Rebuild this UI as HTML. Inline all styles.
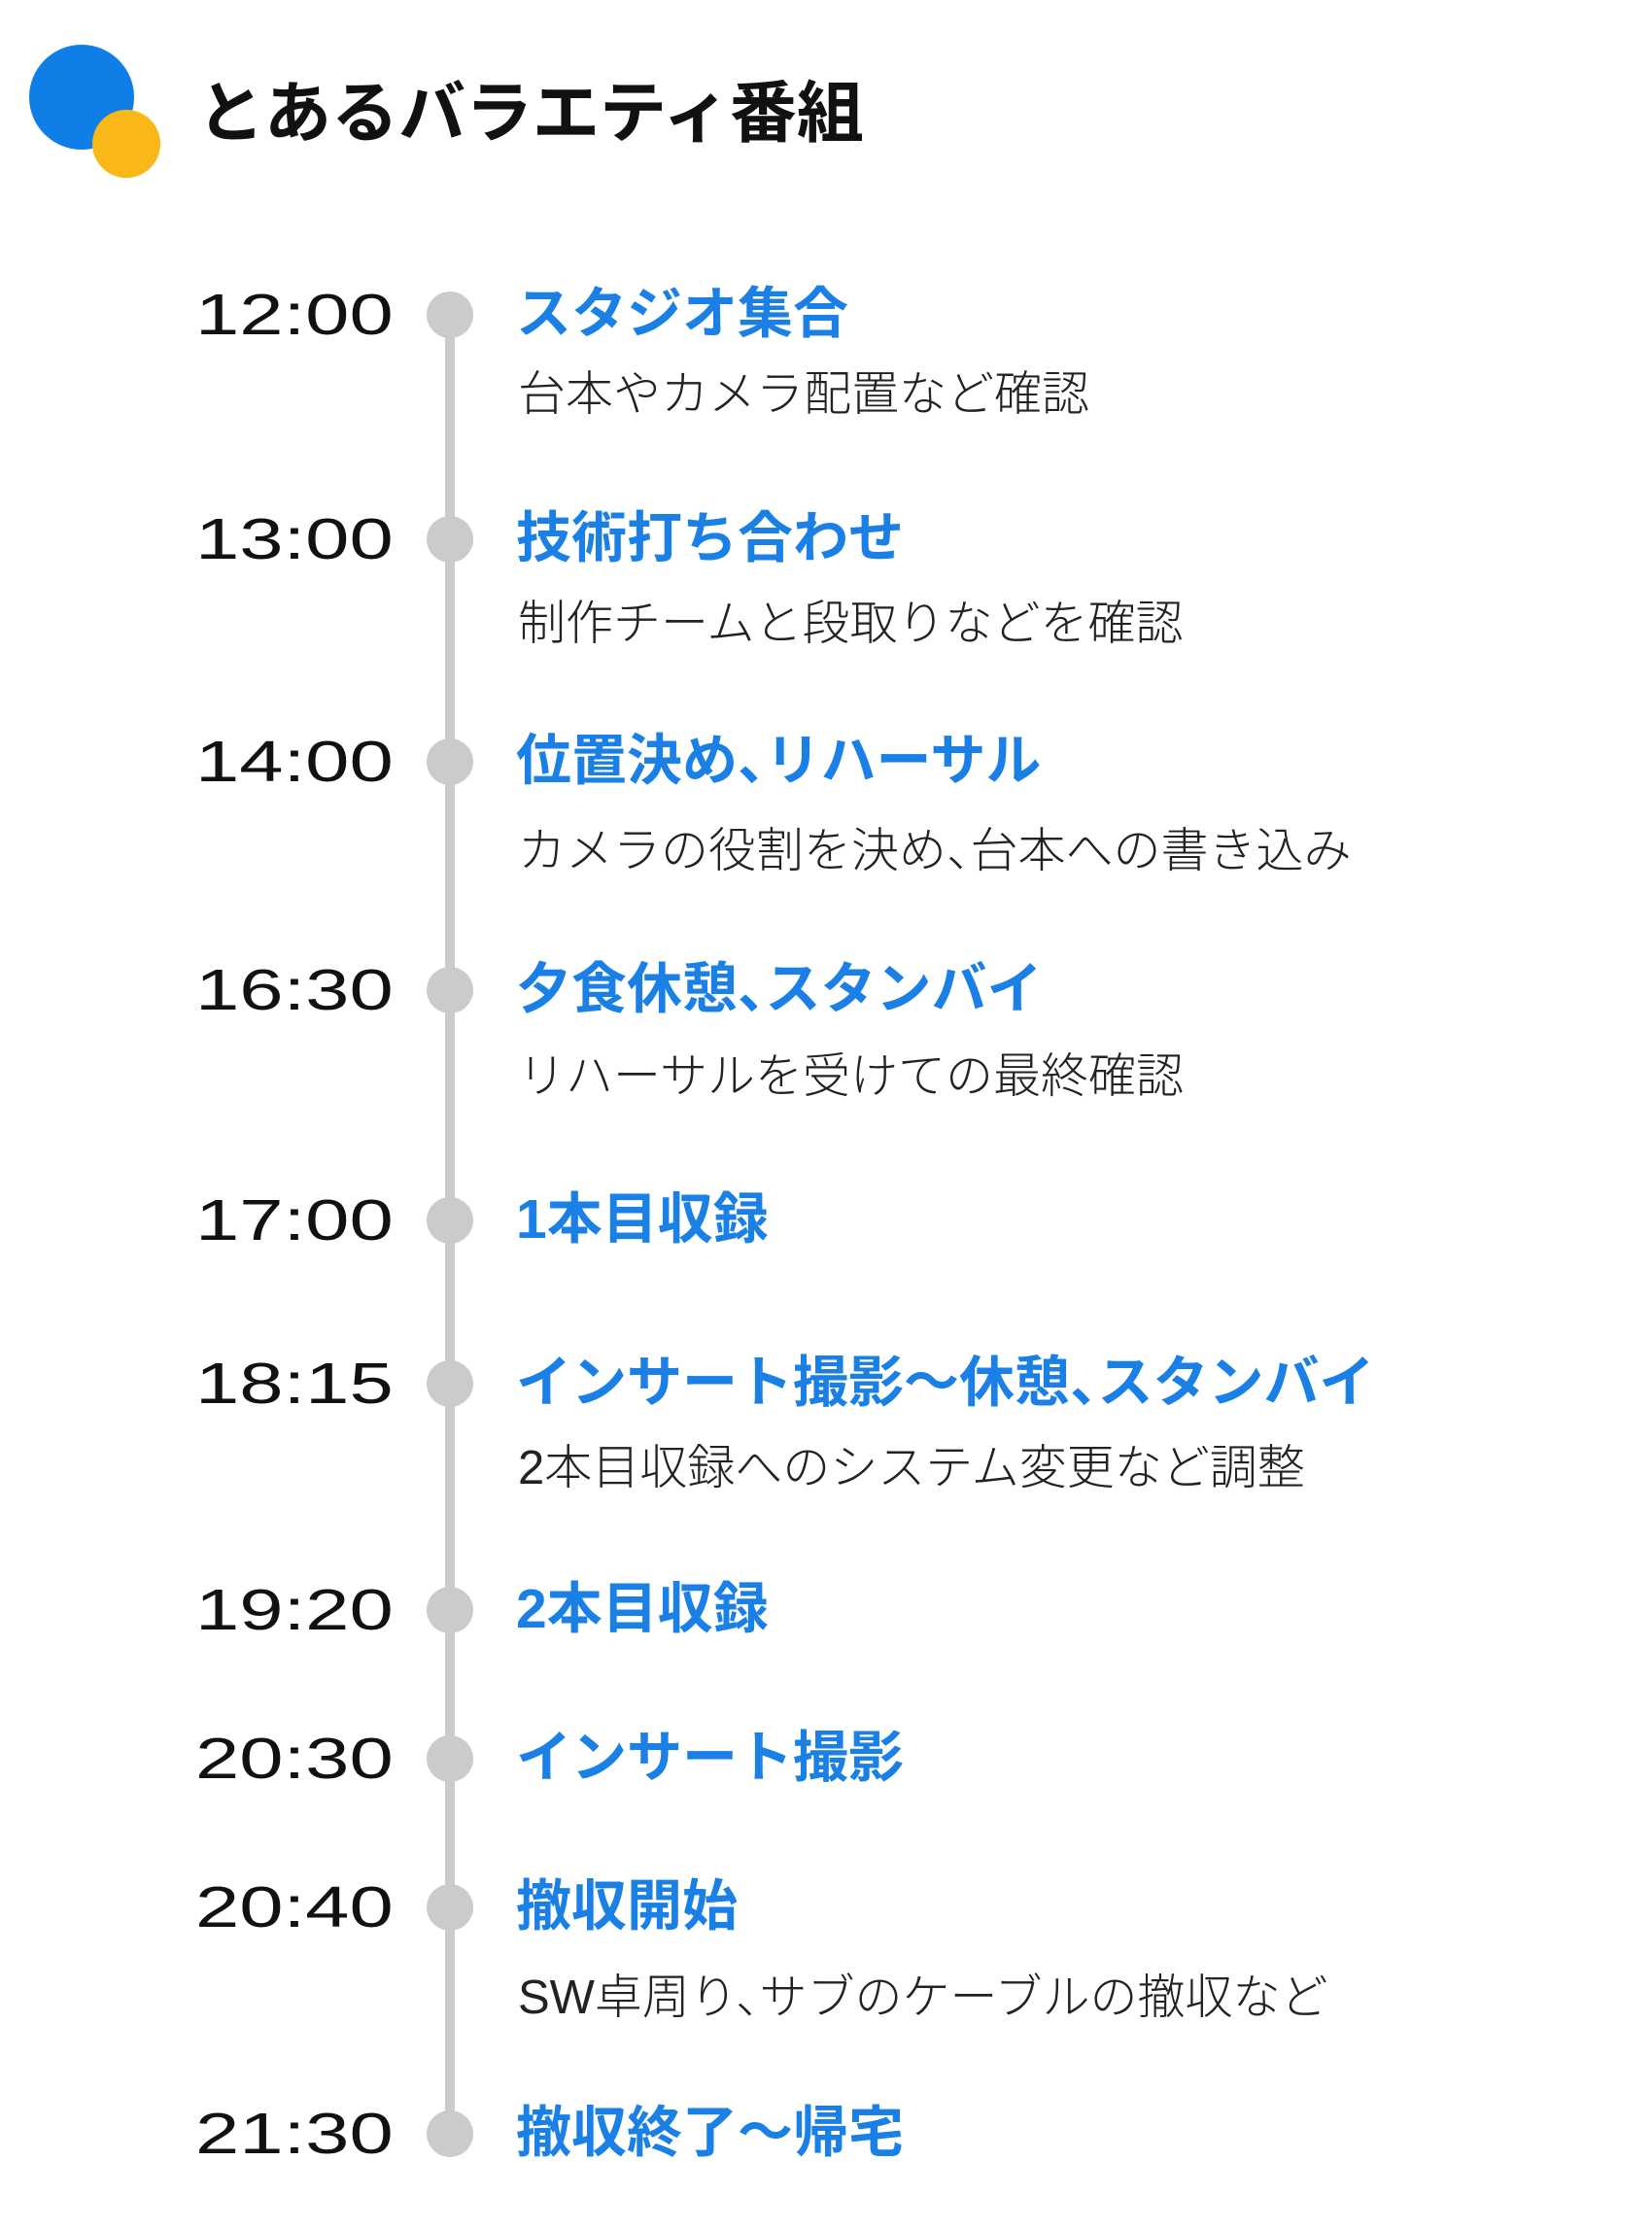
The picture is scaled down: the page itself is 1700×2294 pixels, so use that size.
<!DOCTYPE html>
<html><head><meta charset="utf-8"><style>
body{margin:0;width:1700px;height:2294px;background:#fff;position:relative;overflow:hidden;font-family:"Liberation Sans","Noto Sans CJK JP",sans-serif}
.a{position:absolute;white-space:nowrap}
.t{font-size:59px;line-height:58px;color:#111;left:201px;transform:scaleX(1.38);transform-origin:left center}
.h{font-size:57px;line-height:57px;color:#1a80e5;font-weight:bold;left:531px}
.s{font-size:49px;line-height:48px;color:#222;left:533px;font-weight:300}
.d{width:48px;height:48px;border-radius:50%;background:#cbcacd;left:439px}
.c{margin-right:-0.5em}
</style></head><body>
<div class="a" style="left:30px;top:46px;width:108px;height:108px;border-radius:50%;background:#0f7ee6"></div>
<div class="a" style="left:95px;top:113px;width:70px;height:70px;border-radius:50%;background:#fab818"></div>
<div class="a" style="left:203px;top:80px;font-size:69px;line-height:74px;font-weight:bold;color:#111">とあるバラエティ番組</div>
<div class="a" style="left:458px;top:324px;width:10px;height:1874px;background:#cbcacd"></div>

<div class="a d" style="top:300px"></div><div class="a t" style="top:295px">12:00</div><div class="a h" style="top:295px">スタジオ集合</div><div class="a s" style="top:382px">台本やカメラ配置など確認</div>
<div class="a d" style="top:531px"></div><div class="a t" style="top:526px">13:00</div><div class="a h" style="top:526px">技術打ち合わせ</div><div class="a s" style="top:618px">制作チームと段取りなどを確認</div>
<div class="a d" style="top:760px"></div><div class="a t" style="top:755px">14:00</div><div class="a h" style="top:755px">位置決め<span class="c">、</span>リハーサル</div><div class="a s" style="top:852px">カメラの役割を決め<span class="c">、</span>台本への書き込み</div>
<div class="a d" style="top:995px"></div><div class="a t" style="top:990px">16:30</div><div class="a h" style="top:990px">夕食休憩<span class="c">、</span>スタンバイ</div><div class="a s" style="top:1084px">リハーサルを受けての最終確認</div>
<div class="a d" style="top:1232px"></div><div class="a t" style="top:1227px">17:00</div><div class="a h" style="top:1227px">1本目収録</div>
<div class="a d" style="top:1400px"></div><div class="a t" style="top:1395px">18:15</div><div class="a h" style="top:1395px">インサート撮影～休憩<span class="c">、</span>スタンバイ</div><div class="a s" style="top:1487px">2本目収録へのシステム変更など調整</div>
<div class="a d" style="top:1633px"></div><div class="a t" style="top:1628px">19:20</div><div class="a h" style="top:1628px">2本目収録</div>
<div class="a d" style="top:1786px"></div><div class="a t" style="top:1781px">20:30</div><div class="a h" style="top:1781px">インサート撮影</div>
<div class="a d" style="top:1939px"></div><div class="a t" style="top:1934px">20:40</div><div class="a h" style="top:1934px">撤収開始</div><div class="a s" style="top:2032px">SW卓周り<span class="c">、</span>サブのケーブルの撤収など</div>
<div class="a d" style="top:2172px"></div><div class="a t" style="top:2167px">21:30</div><div class="a h" style="top:2167px">撤収終了～帰宅</div>
</body></html>
